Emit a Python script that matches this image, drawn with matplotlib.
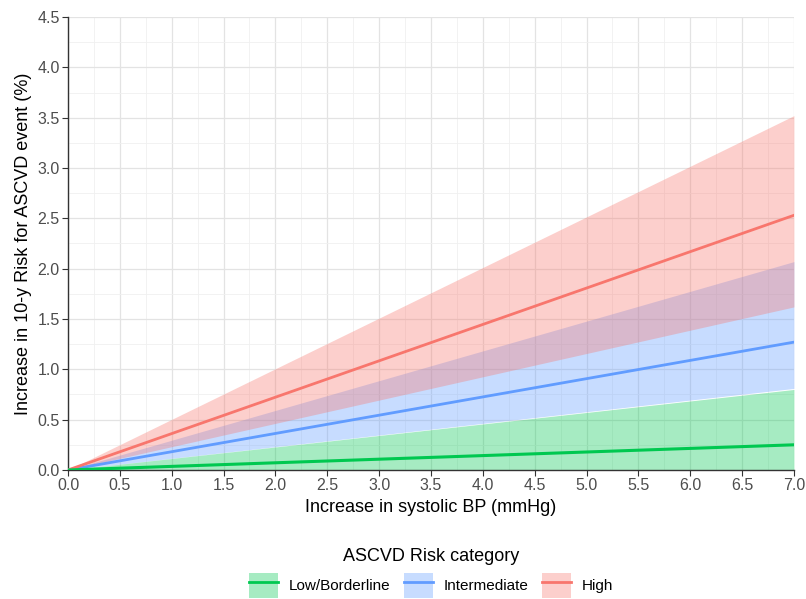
import matplotlib
matplotlib.use('Agg')
from matplotlib import pyplot as plt
from matplotlib.patches import Patch
from matplotlib.lines import Line2D
import numpy as np

plt.rcParams['font.family'] = ['Liberation Sans', 'DejaVu Sans']

# increase in systolic BP (mmHg)
bp = [0.0, 7.0]

categories = ['Low/Borderline', 'Intermediate', 'High']
colors = ['#00C850', '#619CFF', '#F8766D']

# estimated risk increase and band, per category
risk_mid = [[0.0, 0.25], [0.0, 1.27], [0.0, 2.53]]
risk_low = [[0.0, 0.0], [0.0, 0.81], [0.0, 1.62]]
risk_high = [[0.0, 0.80], [0.0, 2.07], [0.0, 3.52]]

fig = plt.figure(figsize=(8.06, 5.99), dpi=100)
ax = fig.add_axes([0.0844, 0.2154, 0.9006, 0.7562])

order = [1, 2, 0]
for i in order:
    ax.fill_between(bp, risk_low[i], risk_high[i], color=colors[i], alpha=0.35, linewidth=0, zorder=2)
for i in order:
    ax.plot(bp, risk_mid[i], color=colors[i], lw=2.2 if i == 0 else 2, zorder=3)

ax.set_xlim(0, 7)
ax.set_ylim(0, 4.5)
ax.set_xticks(np.arange(0, 7.01, 0.5))
ax.set_yticks(np.arange(0, 4.51, 0.5))
ax.set_xticks(np.arange(0.25, 7, 0.5), minor=True)
ax.set_yticks(np.arange(0.25, 4.5, 0.5), minor=True)
ax.grid(which='major', color='#E3E3E3', lw=0.9, zorder=0)
ax.grid(which='minor', color='#F0F0F0', lw=0.6, zorder=0)
ax.set_axisbelow(True)
ax.tick_params(which='minor', length=0)
ax.tick_params(which='major', length=4, color='#333333', labelsize=11.5, labelcolor='#4D4D4D', pad=2)
for s in ['top', 'right']:
    ax.spines[s].set_visible(False)
for s in ['left', 'bottom']:
    ax.spines[s].set_color('#333333')
    ax.spines[s].set_linewidth(1)

ax.set_xlabel('Increase in systolic BP (mmHg)', fontsize=13, labelpad=4)
ax.set_ylabel('Increase in 10-y Risk for ASCVD event (%)', fontsize=13, labelpad=4)

handles = [(Patch(facecolor=c, alpha=0.35, edgecolor='none'), Line2D([], [], color=c, lw=2)) for c in colors]
leg = fig.legend(handles, categories, loc='lower center', bbox_to_anchor=(0.535, -0.022), ncol=3,
                 frameon=False, title='ASCVD Risk category', fontsize=11, title_fontsize=13,
                 handlelength=1.9, handleheight=2.2, columnspacing=0.9, handletextpad=0.7)

fig.savefig('out.png', dpi=100)
